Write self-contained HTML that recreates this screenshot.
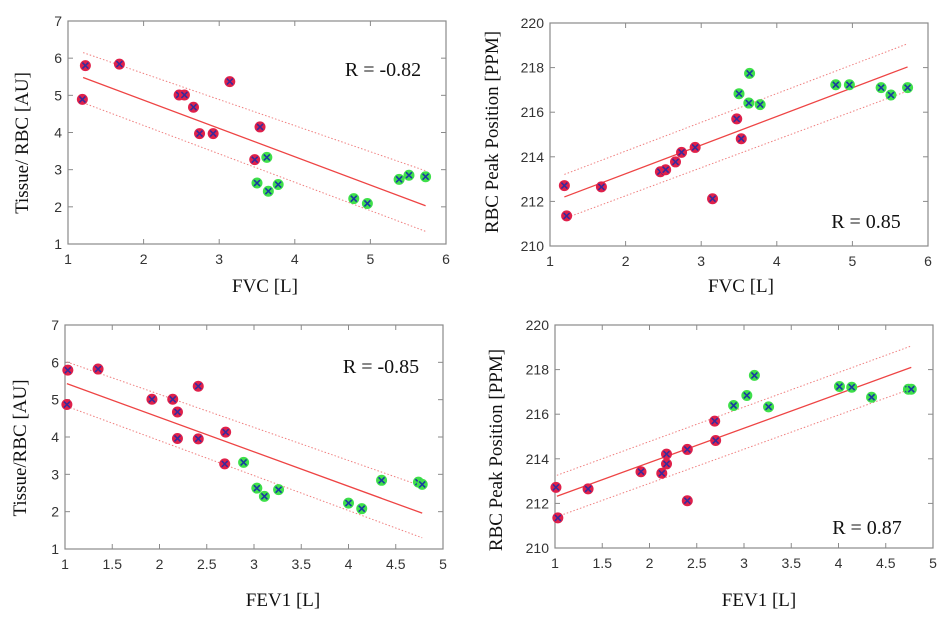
<!DOCTYPE html>
<html><head><meta charset="utf-8"><style>
html,body{margin:0;padding:0;background:#fff;}
svg{display:block;}
</style></head><body>
<svg id="fig" width="952" height="618" xmlns="http://www.w3.org/2000/svg"></svg>
<script>
// Panel A: FVC vs Tissue/RBC
const aRedX=[1.23,1.19,1.68,2.47,2.54,2.66,2.74,2.92,3.14,3.54,3.47];
const aRedY=[5.80,4.89,5.84,5.01,5.01,4.68,3.97,3.97,5.37,4.15,3.27];
const aGrnX=[3.63,3.50,3.65,3.78,4.78,4.96,5.38,5.51,5.73];
const aGrnY=[3.33,2.64,2.42,2.60,2.22,2.09,2.74,2.85,2.81];
const aFitX=[1.2,5.73];const aFit=[5.48,2.03];const aUp=[6.15,2.97];const aLo=[4.80,1.34];
// Panel B: FVC vs RBC peak
const bRedX=[1.19,1.22,1.68,2.46,2.53,2.66,2.74,2.92,3.15,3.47,3.53];
const bRedY=[212.71,211.35,212.65,213.33,213.42,213.77,214.20,214.42,212.12,215.70,214.81];
const bGrnX=[3.50,3.63,3.64,3.78,4.78,4.96,5.38,5.51,5.73];
const bGrnY=[216.83,216.41,217.74,216.34,217.23,217.23,217.10,216.77,217.10];
const bFitX=[1.19,5.73];const bFit=[212.20,218.03];const bUp=[213.21,219.07];const bLo=[211.23,216.95];
// Panel C: FEV1 vs Tissue/RBC
const cRedX=[1.03,1.02,1.35,1.92,2.14,2.19,2.41,2.19,2.41,2.70,2.69];
const cRedY=[5.79,4.87,5.82,5.01,5.01,4.67,5.36,3.96,3.95,4.13,3.28];
const cGrnX=[2.89,3.03,3.11,3.26,4.00,4.14,4.35,4.74,4.78];
const cGrnY=[3.32,2.63,2.41,2.59,2.23,2.08,2.84,2.79,2.73];
const cFitX=[1.02,4.78];const cFit=[5.43,1.96];const cUp=[6.01,2.68];const cLo=[4.82,1.30];
// Panel D: FEV1 vs RBC peak
const dRedX=[1.01,1.03,1.35,1.91,2.13,2.18,2.18,2.40,2.40,2.69,2.70];
const dRedY=[212.72,211.35,212.65,213.42,213.35,214.21,213.77,214.42,212.12,215.69,214.82];
const dGrnX=[2.89,3.03,3.11,3.26,4.01,4.14,4.35,4.74,4.77];
const dGrnY=[216.39,216.84,217.74,216.33,217.24,217.21,216.76,217.12,217.12];
const dFitX=[1.02,4.77];const dFit=[212.32,218.10];const dUp=[213.26,219.06];const dLo=[211.40,217.14];

const xTicksFVC=["1","2","3","4","5","6"];
const xTicksFEV=["1","1.5","2","2.5","3","3.5","4","4.5","5"];
const yTicksT=["1","2","3","4","5","6","7"];
const yTicksP=["210","212","214","216","218","220"];

const NS="http://www.w3.org/2000/svg";
const svg=document.getElementById('fig');
function mk(tag,attrs,parent){const e=document.createElementNS(NS,tag);for(const k in attrs)e.setAttribute(k,attrs[k]);(parent||svg).appendChild(e);return e;}

function panel(id,box,xt,yt,redX,redY,grnX,grnY,fitX,fit,up,lo,xtitle,ytitle,ytx,yty,xtx,xty,rtext,rx,ry){
  const g=mk('g',{});
  
  
  const [L,R,T,B]=box;
  const x0=+xt[0],x1=+xt[xt.length-1],y0=+yt[0],y1=+yt[yt.length-1];
  const sx=v=>L+(v-x0)/(x1-x0)*(R-L);
  const sy=v=>B-(v-y0)/(y1-y0)*(B-T);
  const fr=mk('rect',{x:L,y:T,width:R-L,height:B-T,fill:'none',stroke:'#8a8a8a','stroke-width':1.2},g);
  
  
  xt.forEach(t=>{const x=sx(+t);
    mk('line',{x1:x,x2:x,y1:B,y2:B-5,stroke:'#8a8a8a'},g);
    mk('line',{x1:x,x2:x,y1:T,y2:T+5,stroke:'#8a8a8a'},g);
    const tx=mk('text',{x:x,y:B+20,'text-anchor':'middle','font-family':'Liberation Sans, sans-serif','font-size':14,fill:'#333'},g);
    tx.textContent=t;
    
    
  });
  yt.forEach(t=>{const y=sy(+t);
    mk('line',{x1:L,x2:L+5,y1:y,y2:y,stroke:'#8a8a8a'},g);
    mk('line',{x1:R,x2:R-5,y1:y,y2:y,stroke:'#8a8a8a'},g);
    const tx=mk('text',{x:L-6,y:y+5,'text-anchor':'end','font-family':'Liberation Sans, sans-serif','font-size':14,fill:'#333'},g);
    tx.textContent=t;
    
    
  });
  const bands=[[up,'band-upper'],[lo,'band-lower']];
  bands.forEach(([b,n])=>{const l=mk('line',{x1:sx(fitX[0]),y1:sy(b[0]),x2:sx(fitX[1]),y2:sy(b[1]),stroke:'#f08080','stroke-width':1,'stroke-dasharray':'1.5,2'},g);
    
    });
  const fl=mk('line',{x1:sx(fitX[0]),y1:sy(fit[0]),x2:sx(fitX[1]),y2:sy(fit[1]),stroke:'#ee4444','stroke-width':1.3},g);
  
  
  function pts(X,Y,fill,xc,n){X.forEach((v,i)=>{const cx=sx(v),cy=sy(Y[i]);
    const c=mk('circle',{cx:cx,cy:cy,r:5.5,fill:fill},g);
    
    
    mk('path',{d:`M${cx-3} ${cy-3}L${cx+3} ${cy+3}M${cx-3} ${cy+3}L${cx+3} ${cy-3}`,stroke:xc,'stroke-width':1.6},g);
  });}
  pts(redX,redY,'#e0204a','#3a2a9a','point-red');
  pts(grnX,grnY,'#3ee04a','#1a3aa0','point-green');
  const xtl=mk('text',{x:xtx,y:xty,'text-anchor':'middle','font-family':'Liberation Serif, serif','font-size':19,fill:'#111'},g);
  xtl.textContent=xtitle;
  
  
  const ytl=mk('text',{x:0,y:0,'text-anchor':'middle','font-family':'Liberation Serif, serif','font-size':19,fill:'#111',transform:`translate(${ytx},${yty}) rotate(-90)`},g);
  ytl.textContent=ytitle;
  
  
  const rt=mk('text',{x:rx,y:ry,'text-anchor':'middle','font-family':'Liberation Serif, serif','font-size':20,fill:'#111'},g);
  rt.textContent=rtext;
  
  
}
panel('panel-fvc-tissue',[68,446,21,244],xTicksFVC,yTicksT,aRedX,aRedY,aGrnX,aGrnY,aFitX,aFit,aUp,aLo,'FVC [L]','Tissue/ RBC [AU]',28,143,265,292,'R = -0.82',383,76);
panel('panel-fvc-peak',[550,928,23,246],xTicksFVC,yTicksP,bRedX,bRedY,bGrnX,bGrnY,bFitX,bFit,bUp,bLo,'FVC [L]','RBC Peak Position [PPM]',498,132,741,292,'R = 0.85',866,228);
panel('panel-fev1-tissue',[65,443,325,549],xTicksFEV,yTicksT,cRedX,cRedY,cGrnX,cGrnY,cFitX,cFit,cUp,cLo,'FEV1 [L]','Tissue/RBC [AU]',26,448,283,606,'R = -0.85',381,373);
panel('panel-fev1-peak',[555,933,325,548],xTicksFEV,yTicksP,dRedX,dRedY,dGrnX,dGrnY,dFitX,dFit,dUp,dLo,'FEV1 [L]','RBC Peak Position [PPM]',502,450,759,606,'R = 0.87',867,534);
</script>
</body></html>
